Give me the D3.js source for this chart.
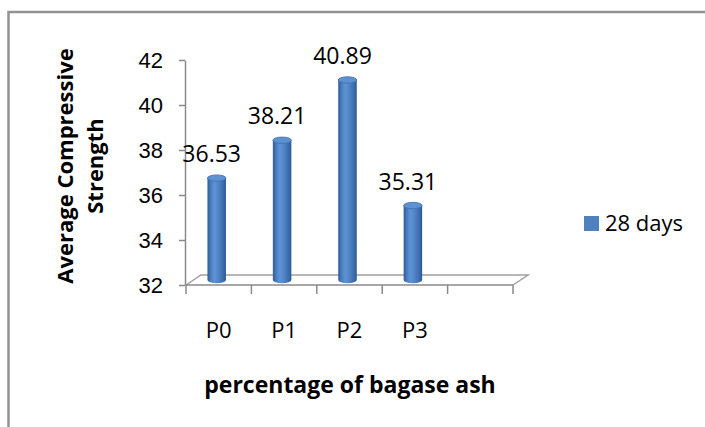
<!DOCTYPE html>
<html>
  <head>
    <script src="https://d3js.org/d3.v7.min.js"></script>
    <style>
      body { margin: 0; background: #fff; }
      svg { font-family: "Open Sans", sans-serif; }
      .axis path, .axis line { stroke: #8a8a8a; stroke-width: 1.5; fill: none; }
      .axis text { fill: #000; }
    </style>
  </head>
  <body>
    <svg width="705" height="427"></svg>
    <script>
      const categories = ["P0", "P1", "P2", "P3"];
      const values = [36.53, 38.21, 40.89, 35.31];
      const yTicks = [32, 34, 36, 38, 40, 42];
      const seriesName = "28 days";

      const svg = d3.select("svg");
      svg.append("rect").attr("width", 705).attr("height", 427).attr("fill", "#fff");

      // outer chart frame (only top and left edges show)
      svg.append("path")
        .attr("d", "M8.5,427 V12 H705")
        .attr("fill", "none")
        .attr("stroke", "#929292")
        .attr("stroke-width", 2.5);

      // x band has one empty slot after P3, like the original
      const x = d3.scaleBand()
        .domain([...categories, ""])
        .range([186, 513]);

      const y = d3.scaleLinear()
        .domain([32, 42])
        .range([285, 60]);

      const depth = { dx: 15, dy: -10 };

      // floor
      const fx0 = x.range()[0], fx1 = x.range()[1], fy = y(32);
      svg.append("path")
        .attr("d", `M${fx0},${fy} L${fx0 + depth.dx},${fy + depth.dy} L${fx1 + depth.dx},${fy + depth.dy} L${fx1},${fy}`)
        .attr("fill", "none")
        .attr("stroke", "#a0a0a0")
        .attr("stroke-width", 1.5);

      // y axis
      svg.append("g")
        .attr("class", "axis")
        .attr("transform", "translate(185,0)")
        .call(d3.axisLeft(y).tickValues(yTicks).tickSize(6).tickPadding(16).tickSizeOuter(0))
        .selectAll("text")
        .style("font-size", "22px")
        .attr("dy", "0.36em");

      // x axis line + boundary ticks
      const xg = svg.append("g").attr("class", "axis");
      xg.append("line")
        .attr("x1", fx0).attr("x2", fx1)
        .attr("y1", fy).attr("y2", fy);
      const bounds = [...x.domain().map(d => x(d)), fx1];
      xg.selectAll(".btick")
        .data(bounds)
        .join("line")
        .attr("class", "btick")
        .attr("x1", d => d).attr("x2", d => d)
        .attr("y1", fy).attr("y2", fy + 9);

      xg.selectAll(".clabel")
        .data(categories)
        .join("text")
        .attr("class", "clabel")
        .attr("x", d => x(d) + x.bandwidth() / 2)
        .attr("y", 338)
        .attr("text-anchor", "middle")
        .style("font-size", "22px")
        .text(d => d);

      // cylinder gradient
      const defs = svg.append("defs");
      const grad = defs.append("linearGradient").attr("id", "cyl")
        .attr("x1", "0%").attr("x2", "100%").attr("y1", "0%").attr("y2", "0%");
      [["0%", "#2d5a92"], ["18%", "#4a7ec2"], ["38%", "#5f93d4"], ["60%", "#4f84c6"], ["85%", "#3c6dad"], ["100%", "#2c5890"]]
        .forEach(([o, c]) => grad.append("stop").attr("offset", o).attr("stop-color", c));

      const barW = 18.5, rx = barW / 2, ry = 3.2, shift = -2, lift = -5;
      const bars = svg.append("g").selectAll("g")
        .data(values.map((v, i) => ({ cat: categories[i], v })))
        .join("g");

      bars.append("path")
        .attr("fill", "url(#cyl)")
        .attr("d", d => {
          const cx = x(d.cat) + x.bandwidth() / 2 + shift;
          const top = y(d.v) + lift, bot = y(32) + lift;
          return `M${cx - rx},${top} L${cx - rx},${bot} A${rx},${ry} 0 0 0 ${cx + rx},${bot} L${cx + rx},${top} Z`;
        });

      bars.append("ellipse")
        .attr("cx", d => x(d.cat) + x.bandwidth() / 2 + shift)
        .attr("cy", d => y(d.v) + lift)
        .attr("rx", rx).attr("ry", ry)
        .attr("fill", "#5e91d1")
        .attr("stroke", "#3d6eab")
        .attr("stroke-width", 0.8);

      // data labels
      bars.append("text")
        .attr("x", d => x(d.cat) + x.bandwidth() / 2 + shift - 5)
        .attr("y", d => y(d.v) - 21)
        .attr("text-anchor", "middle")
        .style("font-size", "23px")
        .text(d => d.v.toFixed(2));

      // axis titles
      svg.append("text")
        .attr("x", 350).attr("y", 393)
        .attr("text-anchor", "middle")
        .style("font-size", "23px")
        .style("font-weight", "bold")
        .text("percentage of bagase ash");

      const yt = svg.append("text")
        .attr("transform", "translate(0,166) rotate(-90)")
        .attr("text-anchor", "middle")
        .style("font-size", "22px")
        .style("font-weight", "bold");
      yt.append("tspan").attr("x", 0).attr("y", 73).text("Average Compressive");
      yt.append("tspan").attr("x", 0).attr("y", 103).text("Strength");

      // legend
      const legend = svg.append("g").attr("transform", "translate(584,216)");
      legend.append("rect").attr("width", 15).attr("height", 15).attr("fill", "#4f81bd");
      legend.append("text").attr("x", 21).attr("y", 15).style("font-size", "22px").text(seriesName);
    </script>
  </body>
</html>
